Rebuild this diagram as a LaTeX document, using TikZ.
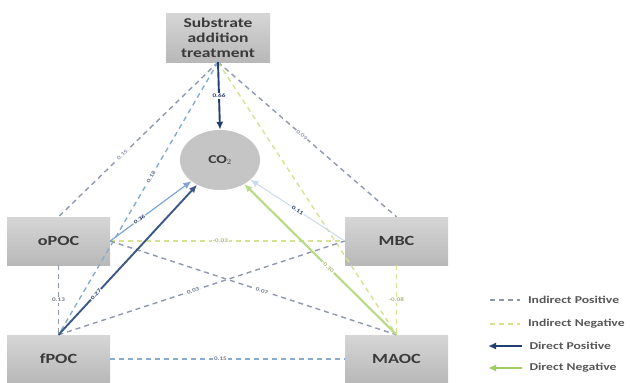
\documentclass[tikz,border=0pt]{standalone}
\usepackage{fontspec}
\setmainfont[FakeStretch=1.3]{Carlito}
\usetikzlibrary{arrows.meta,shapes.geometric,positioning}
\definecolor{pmNavy}{RGB}{36,62,110}
\definecolor{pmSteel}{RGB}{125,165,210}
\definecolor{pmGreen}{RGB}{160,205,95}
\definecolor{pmLime}{RGB}{214,226,145}
\definecolor{pmDash}{RGB}{142,152,174}
\definecolor{pmBlueDash}{RGB}{135,172,208}
\definecolor{pmBoxTop}{RGB}{214,214,214}
\definecolor{pmBoxBot}{RGB}{184,184,184}
\definecolor{pmInk}{RGB}{58,58,58}
\tikzset{
  poolbox/.style={rectangle, top color=pmBoxTop, bottom color=pmBoxBot,
    minimum width=103pt, minimum height=48pt, inner sep=2pt,
    font=\fontsize{14}{16}\selectfont\bfseries\color{pmInk}},
  indpos/.style={draw=pmDash, line width=1.4pt, dash pattern=on 5pt off 4pt},
  indneg/.style={draw=pmLime, line width=1.4pt, dash pattern=on 5pt off 4pt},
  dirpos/.style={draw=pmNavy, line width=1.9pt, -{Latex[length=8pt,width=7pt]}},
  dirneg/.style={draw=pmGreen, line width=2.1pt, -{Latex[length=8pt,width=7pt]}},
  coef/.style={fill=white, inner sep=0.8pt, font=\fontsize{5.5}{6}\selectfont\bfseries},
  keytext/.style={right, xshift=4pt, font=\fontsize{10.5}{12}\selectfont\bfseries\color{pmInk!85}}
}

\begin{document}
\begin{tikzpicture}[x=1pt,y=1pt]
  \useasboundingbox (0,0) rectangle (630,-383);
  % pools
  \node[poolbox, minimum width=104pt, minimum height=49pt, align=center,
    font=\fontsize{13.5}{15}\selectfont\bfseries\color{pmInk}] (sub) at (218,-37.5)
    {Substrate\\addition\\treatment};
  \node[ellipse, fill=pmBoxTop!92!black, minimum width=80pt, minimum height=60pt,
    font=\fontsize{12}{14}\selectfont\bfseries\color{pmInk}] (co) at (220,-160) {CO$_2$};
  \node[poolbox] (opoc) at (58.5,-241) {oPOC};
  \node[poolbox] (mbc) at (396.5,-241) {MBC};
  \node[poolbox] (fpoc) at (58.5,-359) {fPOC};
  \node[poolbox] (maoc) at (396.5,-359) {MAOC};

  % indirect paths
  \draw[indpos] (sub.south) -- node[coef, sloped, pos=0.6, text=pmDash] {0.15} (opoc.north);
  \draw[indpos, draw=pmBlueDash] (sub.south) -- node[coef, sloped, pos=0.42, text=pmNavy!70] {0.18} (fpoc.north);
  \draw[indpos] (sub.south) -- node[coef, sloped, pos=0.47, text=pmDash] {0.09} (mbc.north);
  \draw[indneg] (sub.south) -- (maoc.north);
  \draw[indneg] (opoc.east) -- node[coef, pos=0.47, text=pmLime!80!black] {-0.03} (mbc.west);
  \draw[indpos] (opoc.east) -- node[coef, sloped, pos=0.53, text=pmDash!80!black] {0.07} (maoc.north);
  \draw[indpos] (fpoc.north) -- node[coef, sloped, pos=0.47, text=pmDash!80!black] {0.03} (mbc.west);
  \draw[indpos, draw=pmBlueDash] (fpoc.east) -- node[coef, pos=0.47, text=pmDash!80!black] {0.15} (maoc.west);
  \draw[indpos] (opoc.south) -- node[coef, text=pmDash!80!black] {0.13} (fpoc.north);
  \draw[indneg] (mbc.south) -- node[coef, text=pmLime!80!black] {-0.08} (maoc.north);

  % direct paths
  \draw[dirpos] (sub.south) -- node[coef, text=pmNavy] {0.66} (co.north);
  \draw[dirpos, draw=pmSteel, line width=1.2pt] (opoc.east) -- node[coef, sloped, pos=0.36, text=pmNavy] {0.36} (co);
  \draw[dirpos, draw=pmNavy!75!pmSteel] (fpoc.north) -- node[coef, sloped, pos=0.27, text=pmNavy] {0.27} (co);
  \draw[dirpos, draw=pmSteel!40, line width=1pt] (mbc.west) -- node[coef, sloped, pos=0.5, text=pmNavy] {0.11} (co);
  \draw[dirneg, draw=pmGreen!75] (maoc.north) -- node[coef, sloped, pos=0.45, text=pmLime!80!black] {-0.10} (co);

  % key
  \coordinate (k1a) at (490,-300); \coordinate (k1b) at (520,-300);
  \coordinate (k2a) at (490,-324); \coordinate (k2b) at (520,-324);
  \coordinate (k3a) at (488,-346); \coordinate (k3b) at (522,-346);
  \coordinate (k4a) at (488,-368); \coordinate (k4b) at (522,-368);
  \draw[indpos] (k1a) -- (k1b) node[keytext] {Indirect Positive};
  \draw[indneg] (k2a) -- (k2b) node[keytext] {Indirect Negative};
  \draw[dirpos] (k3b) -- (k3a); \node[keytext] at (k3b) {Direct Positive};
  \draw[dirneg] (k4b) -- (k4a); \node[keytext] at (k4b) {Direct Negative};
\end{tikzpicture}
\end{document}
